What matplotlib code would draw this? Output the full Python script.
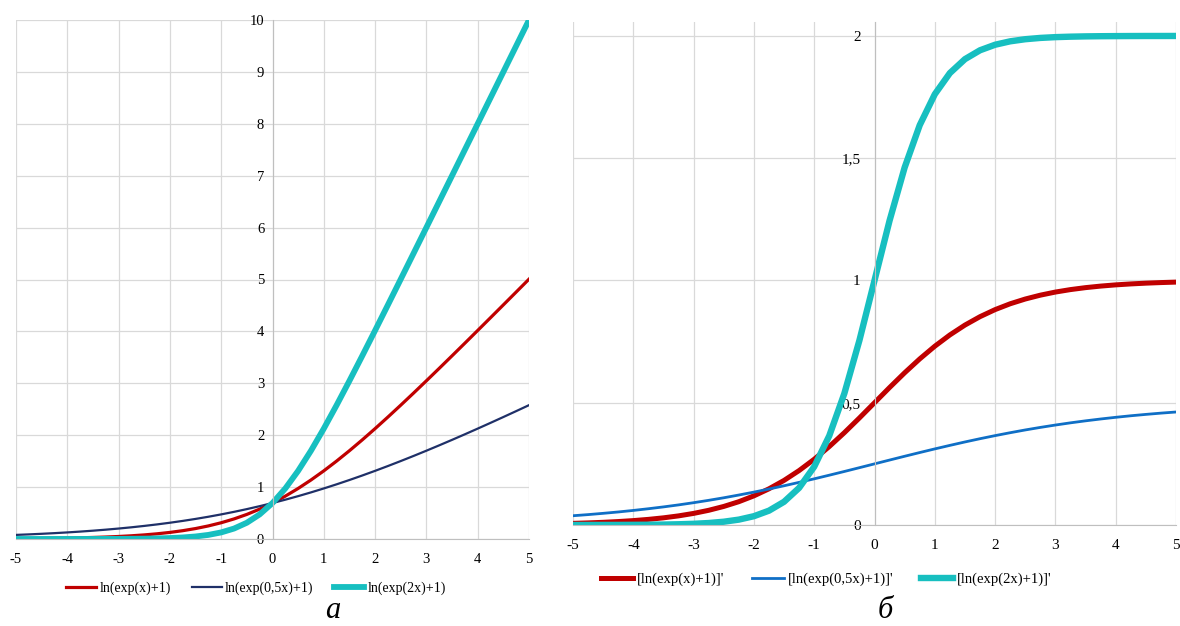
import numpy as np
import matplotlib
matplotlib.use("Agg")
import matplotlib.pyplot as plt
from matplotlib.ticker import FuncFormatter

plt.rcParams['font.family'] = ['Liberation Serif', 'DejaVu Serif']

# x values shared by both panels (step 0.25)
x_vals = [-5, -4.75, -4.5, -4.25, -4, -3.75, -3.5, -3.25, -3, -2.75, -2.5, -2.25, -2, -1.75,
          -1.5, -1.25, -1, -0.75, -0.5, -0.25, 0, 0.25, 0.5, 0.75, 1, 1.25, 1.5, 1.75, 2,
          2.25, 2.5, 2.75, 3, 3.25, 3.5, 3.75, 4, 4.25, 4.5, 4.75, 5]

# --- panel a ---
sp_x = [0.0067, 0.0086, 0.0110, 0.0142, 0.0182, 0.0232, 0.0298, 0.0380, 0.0486, 0.0620, 0.0789,
        0.1002, 0.1269, 0.1602, 0.2014, 0.2520, 0.3133, 0.3869, 0.4741, 0.5759, 0.6931,
        0.8259, 0.9741, 1.1369, 1.3133, 1.5020, 1.7014, 1.9102, 2.1269, 2.3502, 2.5789,
        2.8120, 3.0486, 3.2880, 3.5298, 3.7732, 4.0181, 4.2642, 4.5110, 4.7586, 5.0067]
sp_half = [0.0789, 0.0889, 0.1002, 0.1128, 0.1269, 0.1427, 0.1602, 0.1798, 0.2014, 0.2254, 0.2520,
           0.2812, 0.3133, 0.3485, 0.3869, 0.4287, 0.4741, 0.5231, 0.5759, 0.6326, 0.6931,
           0.7576, 0.8259, 0.8981, 0.9741, 1.0537, 1.1369, 1.2235, 1.3133, 1.4062, 1.5020,
           1.6004, 1.7014, 1.8048, 1.9102, 2.0177, 2.1269, 2.2378, 2.3502, 2.4639, 2.5789]
sp_two = [0.0000, 0.0001, 0.0001, 0.0002, 0.0003, 0.0006, 0.0009, 0.0015, 0.0025, 0.0041, 0.0067,
          0.0110, 0.0182, 0.0298, 0.0486, 0.0789, 0.1269, 0.2014, 0.3133, 0.4741, 0.6931,
          0.9741, 1.3133, 1.7014, 2.1269, 2.5789, 3.0486, 3.5298, 4.0181, 4.5110, 5.0067,
          5.5041, 6.0025, 6.5015, 7.0009, 7.5006, 8.0003, 8.5002, 9.0001, 9.5001, 10.0000]
labels_a = ['ln(exp(x)+1)', 'ln(exp(0,5x)+1)', 'ln(exp(2x)+1)']

# --- panel b ---
d_x = [0.0067, 0.0086, 0.0110, 0.0141, 0.0180, 0.0230, 0.0293, 0.0373, 0.0474, 0.0601, 0.0759,
       0.0953, 0.1192, 0.1480, 0.1824, 0.2227, 0.2689, 0.3208, 0.3775, 0.4378, 0.5000,
       0.5622, 0.6225, 0.6792, 0.7311, 0.7773, 0.8176, 0.8520, 0.8808, 0.9047, 0.9241,
       0.9399, 0.9526, 0.9627, 0.9707, 0.9770, 0.9820, 0.9859, 0.9890, 0.9914, 0.9933]
d_half = [0.0379, 0.0425, 0.0477, 0.0533, 0.0596, 0.0665, 0.0740, 0.0822, 0.0912, 0.1009, 0.1113,
          0.1226, 0.1345, 0.1471, 0.1604, 0.1744, 0.1888, 0.2037, 0.2189, 0.2344, 0.2500,
          0.2656, 0.2811, 0.2963, 0.3112, 0.3256, 0.3396, 0.3529, 0.3655, 0.3774, 0.3887,
          0.3991, 0.4088, 0.4178, 0.4260, 0.4335, 0.4404, 0.4467, 0.4523, 0.4575, 0.4621]
d_two = [0.0001, 0.0002, 0.0003, 0.0004, 0.0007, 0.0011, 0.0018, 0.0030, 0.0049, 0.0081, 0.0134,
         0.0220, 0.0360, 0.0586, 0.0949, 0.1518, 0.2384, 0.3649, 0.5379, 0.7551, 1.0000,
         1.2449, 1.4621, 1.6351, 1.7616, 1.8482, 1.9051, 1.9414, 1.9640, 1.9780, 1.9866,
         1.9919, 1.9951, 1.9970, 1.9982, 1.9989, 1.9993, 1.9996, 1.9998, 1.9998, 1.9999]
labels_b = ["[ln(exp(x)+1)]'", "[ln(exp(0,5x)+1)]'", "[ln(exp(2x)+1)]'"]

RED = '#c00000'
NAVY = '#1f3068'
BLUE = '#0f6fc6'
CYAN = '#17bfc0'
GRID = '#d9d9d9'
AXIS = '#bfbfbf'


def style_axes(ax, xticks, yticks, fmt, fs, ypad, xpad):
    for s in ['top', 'right']:
        ax.spines[s].set_visible(False)
    ax.spines['left'].set_position(('data', 0))
    ax.spines['bottom'].set_position(('data', 0))
    ax.spines['left'].set_color(AXIS)
    ax.spines['bottom'].set_color(AXIS)
    ax.set_xticks(xticks)
    ax.set_yticks(yticks)
    ax.yaxis.set_major_formatter(FuncFormatter(fmt))
    ax.xaxis.set_major_formatter(FuncFormatter(lambda v, p: '%g' % v))
    ax.tick_params(axis='y', length=0, pad=ypad, labelsize=fs)
    ax.tick_params(axis='x', length=0, pad=xpad, labelsize=fs)
    ax.grid(True, color=GRID, linewidth=0.9)
    ax.set_axisbelow(True)


fig = plt.figure(figsize=(11.8, 6.26), dpi=100)

# panel a
ax1 = fig.add_axes([16 / 1180, 87 / 626, 513 / 1180, 519 / 626])
ax1.plot(x_vals, sp_x, color=RED, lw=2.3, label=labels_a[0])
ax1.plot(x_vals, sp_half, color=NAVY, lw=1.6, label=labels_a[1])
ax1.plot(x_vals, sp_two, color=CYAN, lw=4.2, label=labels_a[2])
ax1.set_xlim(-5, 5)
ax1.set_ylim(0, 10)
style_axes(ax1, range(-5, 6), range(0, 11), lambda v, p: '%d' % v, 10.5, 6, 10)
ax1.legend(loc='upper center', bbox_to_anchor=(0.468, -0.058), ncol=3, frameon=False,
           fontsize=10, handlelength=2.15, handletextpad=0.25, columnspacing=1.5)
fig.text(333 / 1180, 1 - 611 / 626, 'а', fontsize=22, style='italic', ha='center', va='center')

# panel b
ax2 = fig.add_axes([573 / 1180, 101 / 626, 603 / 1180, 503 / 626])
ax2.plot(x_vals, d_x, color=RED, lw=3.6, label=labels_b[0])
ax2.plot(x_vals, d_half, color=BLUE, lw=2.0, label=labels_b[1])
ax2.plot(x_vals, d_two, color=CYAN, lw=4.6, label=labels_b[2])
ax2.set_xlim(-5, 5)
ax2.set_ylim(0, 2.057)
style_axes(ax2, range(-5, 6), [0, 0.5, 1, 1.5, 2],
           lambda v, p: ('%g' % v).replace('.', ','), 11, 10, 10)
ax2.legend(loc='upper center', bbox_to_anchor=(0.42, -0.068), ncol=3, frameon=False,
           fontsize=10.5, handlelength=2.2, handletextpad=0.25, columnspacing=1.9)
fig.text(885 / 1180, 1 - 610 / 626, 'б', fontsize=22, style='italic', ha='center', va='center')

fig.savefig('out.png', dpi=100)
